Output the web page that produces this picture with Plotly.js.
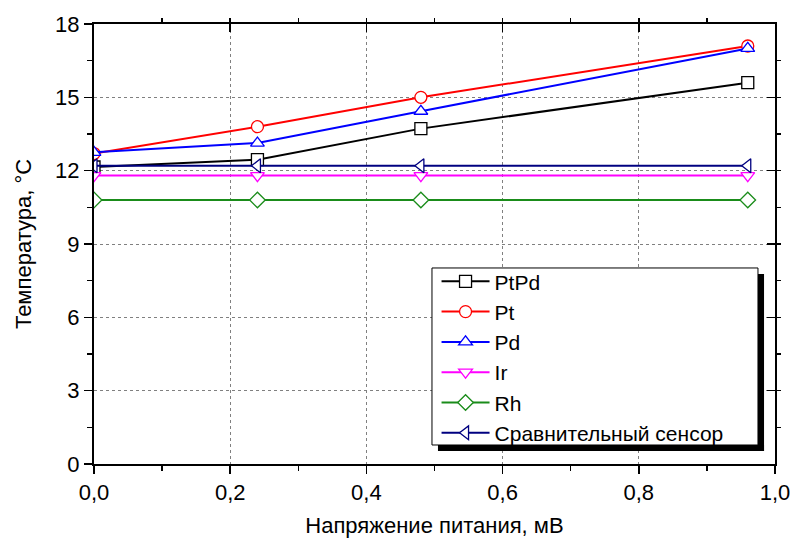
<!DOCTYPE html>
<html><head><meta charset="utf-8">
<script src="https://cdn.plot.ly/plotly-3.0.1.min.js"></script>
<style>body{margin:0;background:#fff}#g{width:793px;height:538px}</style>
</head><body><div id="g"></div>
<script>
const voltage = [0, 0.24, 0.48, 0.96];
const seriesNames = ["PtPd", "Pt", "Pd", "Ir", "Rh", "Сравнительный сенсор"];
const tPtPd = [12.15, 12.45, 13.72, 15.6];
const tPt = [12.7, 13.8, 15.0, 17.1];
const tPd = [12.75, 13.13, 14.43, 17.0];
const tIr = [11.8, 11.8, 11.8, 11.8];
const tRh = [10.8, 10.8, 10.8, 10.8];
const tRef = [12.2, 12.2, 12.2, 12.2];
const xTickVals = [0, 0.2, 0.4, 0.6, 0.8, 1.0];
const xTickText = ["0,0", "0,2", "0,4", "0,6", "0,8", "1,0"];
const yTickVals = [0, 3, 6, 9, 12, 15, 18];

const colors = ["#000000", "#ff0000", "#0000ff", "#ff00ff", "#1a8c1a", "#000080"];
const symbols = ["square", "circle", "triangle-up", "triangle-down", "diamond", "triangle-left"];
const values = [tPtPd, tPt, tPd, tIr, tRh, tRef];

const traces = values.map((v, i) => ({
  x: voltage, y: v, name: seriesNames[i], type: "scatter", mode: "lines+markers",
  line: {color: colors[i], width: 2},
  marker: {symbol: symbols[i], size: 12, color: "#ffffff", line: {color: colors[i], width: 1.3}}
}));

const F = "Liberation Sans, Arial, sans-serif";
const layout = {
  width: 793, height: 538,
  margin: {l: 94, r: 18, t: 24, b: 74},
  paper_bgcolor: "#ffffff", plot_bgcolor: "#ffffff",
  font: {family: F, size: 22, color: "#000"},
  showlegend: true,
  legend: {x: 0.503, y: 0.461, xanchor: "left", yanchor: "top", bgcolor: "rgba(0,0,0,0)",
           borderwidth: 0, itemwidth: 48, font: {family: F, size: 21, color: "#000"}, tracegroupgap: 0},
  xaxis: {range: [0, 1], tickvals: xTickVals, ticktext: xTickText, ticks: "outside", ticklen: 8,
          tickwidth: 1.5, tickcolor: "#000", showline: true, linewidth: 2, linecolor: "#000", mirror: true,
          showgrid: true, gridcolor: "#808080", gridwidth: 1, griddash: "3px,3px", zeroline: false,
          minor: {dtick: 0.1, ticklen: 5, tickwidth: 1.5, tickcolor: "#000", showgrid: false},
          title: {text: "Напряжение питания, мВ", font: {family: F, size: 22}, standoff: 18},
          tickfont: {family: F, size: 22}},
  yaxis: {range: [0, 18], tickvals: yTickVals, ticks: "outside", ticklen: 8,
          tickwidth: 1.5, tickcolor: "#000", showline: true, linewidth: 2, linecolor: "#000", mirror: true,
          showgrid: true, gridcolor: "#808080", gridwidth: 1, griddash: "3px,3px", zeroline: false,
          minor: {dtick: 1.5, ticklen: 5, tickwidth: 1.5, tickcolor: "#000", showgrid: false},
          title: {text: "Температура, °C", font: {family: F, size: 22}, standoff: 17},
          tickfont: {family: F, size: 22}},
  xaxis2: {range: [0, 1], overlaying: "x", side: "top", anchor: "y", tickvals: xTickVals, ticks: "inside",
           ticklen: 8, tickwidth: 1.5, tickcolor: "#000", showticklabels: false, showgrid: false, zeroline: false,
           showline: false, minor: {dtick: 0.1, ticklen: 5, tickwidth: 1.5, tickcolor: "#000", showgrid: false}},
  yaxis2: {range: [0, 18], overlaying: "y", side: "right", anchor: "x", tickvals: yTickVals, ticks: "inside",
           ticklen: 8, tickwidth: 1.5, tickcolor: "#000", showticklabels: false, showgrid: false, zeroline: false,
           showline: false, minor: {dtick: 1.5, ticklen: 5, tickwidth: 1.5, tickcolor: "#000", showgrid: false}},
  shapes: [
    {type: "rect", xref: "paper", yref: "paper", x0: 0.4963, x1: 0.975, y0: 0.0432, y1: 0.4455,
     fillcolor: "#ffffff", line: {color: "#000", width: 1}, layer: "above"},
    {type: "rect", xref: "paper", yref: "paper", x0: 0.975, x1: 0.9839, y0: 0.0295, y1: 0.4318,
     fillcolor: "#000", line: {width: 0}, layer: "above"},
    {type: "rect", xref: "paper", yref: "paper", x0: 0.5051, x1: 0.9839, y0: 0.0295, y1: 0.0432,
     fillcolor: "#000", line: {width: 0}, layer: "above"}
  ]
};
traces.push({x: [], y: [], xaxis: "x2", yaxis: "y2", showlegend: false, hoverinfo: "skip", type: "scatter"});
Plotly.newPlot("g", traces, layout, {displayModeBar: false, staticPlot: true});
</script></body></html>
